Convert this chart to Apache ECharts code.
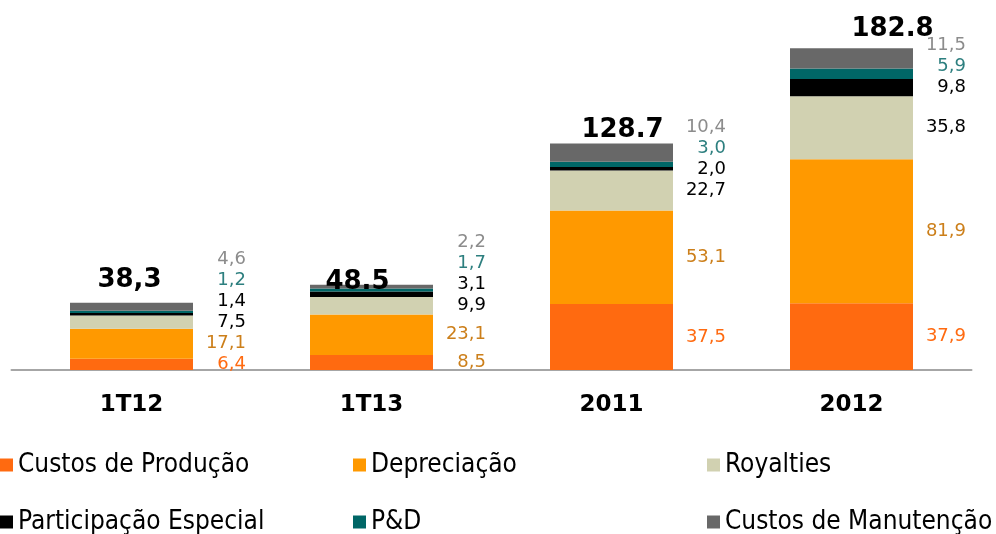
<!DOCTYPE html>
<html>
<head>
<meta charset="utf-8">
<script src="https://cdn.jsdelivr.net/npm/echarts@6/dist/echarts.min.js"></script>
<style>
  html, body { margin: 0; padding: 0; background: #fff; }
  #chart { width: 996px; height: 534px; }
</style>
</head>
<body>
<div id="chart"></div>
<script>
// categorias e valores
const categories = ['1T12', '1T13', '2011', '2012'];
const custosProducao = [6.4, 8.5, 37.5, 37.9];
const depreciacao = [17.1, 23.1, 53.1, 81.9];
const royalties = [7.5, 9.9, 22.7, 35.8];
const participacao = [1.4, 3.1, 2.0, 9.8];
const pd = [1.2, 1.7, 3.0, 5.9];
const manutencao = [4.6, 2.2, 10.4, 11.5];
const totalLabels = ['38,3', '48.5', '128.7', '182.8'];

// deslocamento dos totais (o original não é uniforme)
const totalOffsets = [[-2, -2], [-14, 19], [11, 8], [41, 2]];

const seriesDefs = [
  { name: 'Custos de Produção', data: custosProducao, color: '#FF6A10',
    labelColor: ['#FF6A10', '#CC7F1A', '#FF6A10', '#FF6A10'] },
  { name: 'Depreciação', data: depreciacao, color: '#FF9900', labelColor: '#CC7F1A' },
  { name: 'Royalties', data: royalties, color: '#D1D1B1', labelColor: '#000000' },
  { name: 'Participação Especial', data: participacao, color: '#000000', labelColor: '#000000' },
  { name: 'P&D', data: pd, color: '#006666', labelColor: '#2D7F7F' },
  { name: 'Custos de Manutenção', data: manutencao, color: '#686868', labelColor: '#8C8C8C' }
];

const chartDom = document.getElementById('chart');
const chart = echarts.init(chartDom);

const gridTop = 18;
const gridBottom = 164;
const yMax = 200;
const pxPerUnit = (534 - gridTop - gridBottom) / yMax;
const labelGap = 21;

// espalha os rótulos de baixo para cima para não se sobreporem
const labelShift = seriesDefs.map(() => []);
categories.forEach((c, i) => {
  let cum = 0;
  let prev = -Infinity;
  seriesDefs.forEach((s, si) => {
    const center = (cum + s.data[i] / 2) * pxPerUnit;
    const pos = Math.max(center, prev + labelGap);
    labelShift[si][i] = pos - center;
    prev = pos;
    cum += s.data[i];
  });
});

const fmt = v => v.toFixed(1).replace('.', ',');

const series = seriesDefs.map((s, si) => ({
  name: s.name,
  type: 'bar',
  stack: 'total',
  barWidth: 123,
  itemStyle: { color: s.color },
  emphasis: { disabled: true },
  data: s.data.map((v, i) => ({
    value: v,
    label: {
      offset: [0, -labelShift[si][i]],
      color: Array.isArray(s.labelColor) ? s.labelColor[i] : s.labelColor
    }
  })),
  label: {
    show: true,
    position: 'right',
    distance: 53,
    align: 'right',
    verticalAlign: 'middle',
    fontFamily: 'DejaVu Sans',
    fontSize: 18,
    formatter: p => fmt(p.value)
  }
}));

// série vazia só para o total acima da pilha
series.push({
  name: 'Total',
  type: 'bar',
  stack: 'total',
  barWidth: 123,
  itemStyle: { color: 'transparent' },
  emphasis: { disabled: true },
  data: categories.map((c, i) => ({
    value: 0,
    label: { offset: totalOffsets[i] }
  })),
  label: {
    show: true,
    position: 'top',
    distance: 8,
    fontFamily: 'DejaVu Sans',
    fontWeight: 'bold',
    fontSize: 26,
    color: '#000',
    formatter: p => totalLabels[p.dataIndex]
  }
});

const legendBase = {
  orient: 'vertical',
  top: 452,
  height: 120,
  padding: 0,
  itemGap: 31,
  itemWidth: 13,
  itemHeight: 13,
  icon: 'rect',
  selectedMode: false,
  textStyle: { fontFamily: 'DejaVu Sans Condensed', fontSize: 26, color: '#000' }
};

const option = {
  animation: false,
  backgroundColor: '#fff',
  grid: { left: 11.5, right: 24.5, top: gridTop, bottom: gridBottom },
  legend: [
    Object.assign({}, legendBase, { left: 0, data: ['Custos de Produção', 'Participação Especial'] }),
    Object.assign({}, legendBase, { left: 353, data: ['Depreciação', 'P&D'] }),
    Object.assign({}, legendBase, { left: 707, data: ['Royalties', 'Custos de Manutenção'] })
  ],
  xAxis: {
    type: 'category',
    data: categories,
    axisTick: { show: false },
    axisLine: { lineStyle: { color: '#A6A6A6', width: 2 } },
    axisLabel: {
      margin: 24,
      fontFamily: 'DejaVu Sans',
      fontWeight: 'bold',
      fontSize: 23,
      color: '#000'
    }
  },
  yAxis: {
    type: 'value',
    min: 0,
    max: yMax,
    show: false,
    splitLine: { show: false }
  },
  series: series
};

chart.setOption(option);
</script>
</body>
</html>
